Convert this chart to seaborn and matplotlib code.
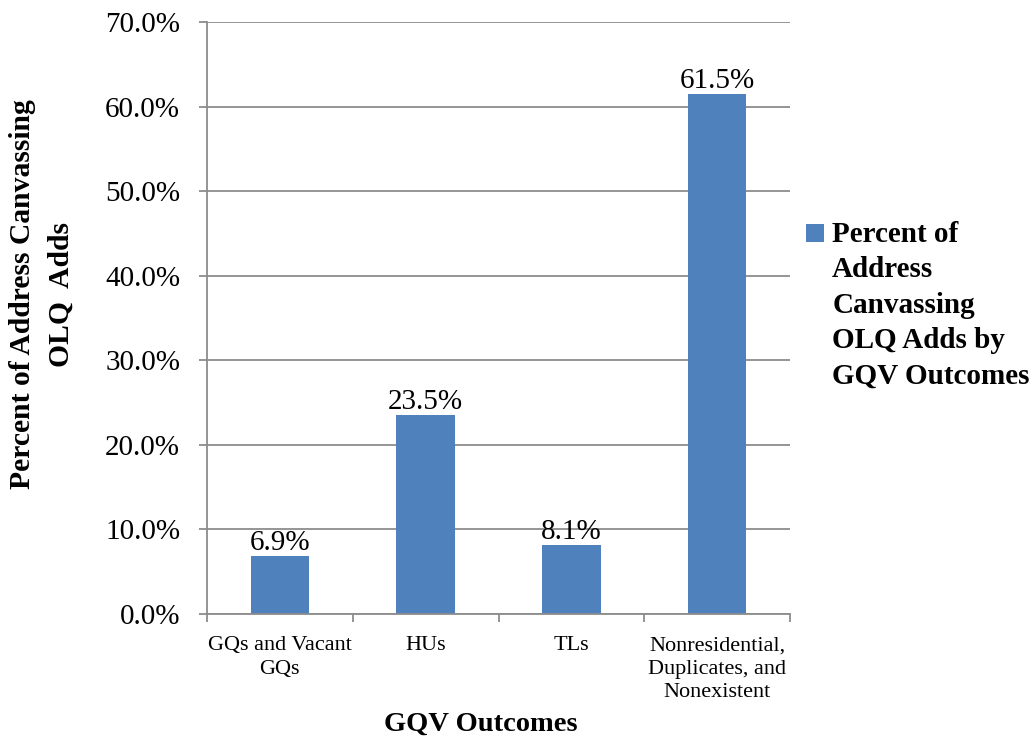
import numpy as np
import pandas as pd
import matplotlib
matplotlib.use('Agg')
import matplotlib.pyplot as plt
import seaborn as sns
from matplotlib.ticker import PercentFormatter, FixedLocator
from matplotlib.legend_handler import HandlerPatch
from matplotlib.patches import Rectangle


categories = ['GQs and Vacant\nGQs', 'HUs', 'TLs',
              'Nonresidential,\nDuplicates, and\nNonexistent']
percent_adds = [6.9, 23.5, 8.1, 61.5]
y_ticks = [0, 10, 20, 30, 40, 50, 60, 70]
series_name = 'Percent of\nAddress\nCanvassing\nOLQ Adds by\nGQV Outcomes'

BAR_COLOR = '#4F81BD'
GRID_COLOR = '#8C8C8C'

sns.set_theme(style='white')
plt.rcParams['font.family'] = ['Liberation Serif', 'DejaVu Serif']
plt.rcParams['text.color'] = 'black'
plt.rcParams['xtick.color'] = 'black'
plt.rcParams['ytick.color'] = 'black'
plt.rcParams['axes.labelcolor'] = 'black'

df = pd.DataFrame({'outcome': categories, 'pct': percent_adds})

fig = plt.figure(figsize=(10.31, 7.38), dpi=100)
ax = fig.add_axes([207 / 1031, 1 - 614 / 738, 583 / 1031, 592 / 738])

sns.barplot(data=df, x='outcome', y='pct', color=BAR_COLOR, width=0.4,
            saturation=1, edgecolor='none', ax=ax)

ax.set_ylim(0, 70)
ax.set_xlim(-0.5, len(categories) - 0.5)
ax.set_yticks(y_ticks)
ax.yaxis.set_major_formatter(PercentFormatter(xmax=100, decimals=1))
ax.grid(axis='y', color=GRID_COLOR, linewidth=1.3)
ax.set_axisbelow(True)

for side in ['top', 'right']:
    ax.spines[side].set_visible(False)
for side in ['left', 'bottom']:
    ax.spines[side].set_color(GRID_COLOR)
    ax.spines[side].set_linewidth(1.3)

ax.tick_params(axis='y', which='major', left=True, length=5.8, width=1.3,
               color=GRID_COLOR, labelcolor='black', labelsize=21, pad=13.5)
# x ticks sit on category boundaries, labels at centres
ax.xaxis.set_minor_locator(FixedLocator(np.arange(-0.5, len(categories), 1.0)))
ax.tick_params(axis='x', which='minor', bottom=True, length=5.8, width=1.3,
               color=GRID_COLOR)
ax.tick_params(axis='x', which='major', bottom=False, labelsize=16, pad=10,
               labelcolor='black')
for lbl in ax.get_xticklabels():
    lbl.set_linespacing(1.32)

ax.bar_label(ax.containers[0], fmt='%.1f%%', fontsize=21, padding=0)

ax.set_xlabel('GQV Outcomes', fontsize=20.5, fontweight='bold', labelpad=7)
ax.xaxis.label.set_x(0.47)
ax.set_ylabel('')
fig.text(42 / 1031, 1 - 294 / 738, 'Percent of Address Canvassing\nOLQ  Adds',
         rotation=90, ha='center', va='center', fontsize=21.3,
         fontweight='bold', linespacing=1.55)


def top_square(legend, orig_handle, xdescent, ydescent, width, height, fontsize):
    # put the legend swatch level with the first line of the label
    return Rectangle((-xdescent, -ydescent + 52), width, height)


bar_patch = ax.containers[0].patches[0]
ax.legend([bar_patch], [series_name], loc='upper left',
          bbox_to_anchor=(806 / 1031, 1 - 221 / 738),
          bbox_transform=fig.transFigure, frameon=False,
          prop={'size': 21, 'weight': 'bold'}, handlelength=0.6,
          handleheight=0.55, handletextpad=0.3, borderpad=0, borderaxespad=0,
          handler_map={Rectangle: HandlerPatch(patch_func=top_square)})
leg = ax.get_legend()
leg.get_texts()[0].set_linespacing(1.4)

fig.savefig('out.png', dpi=100)
